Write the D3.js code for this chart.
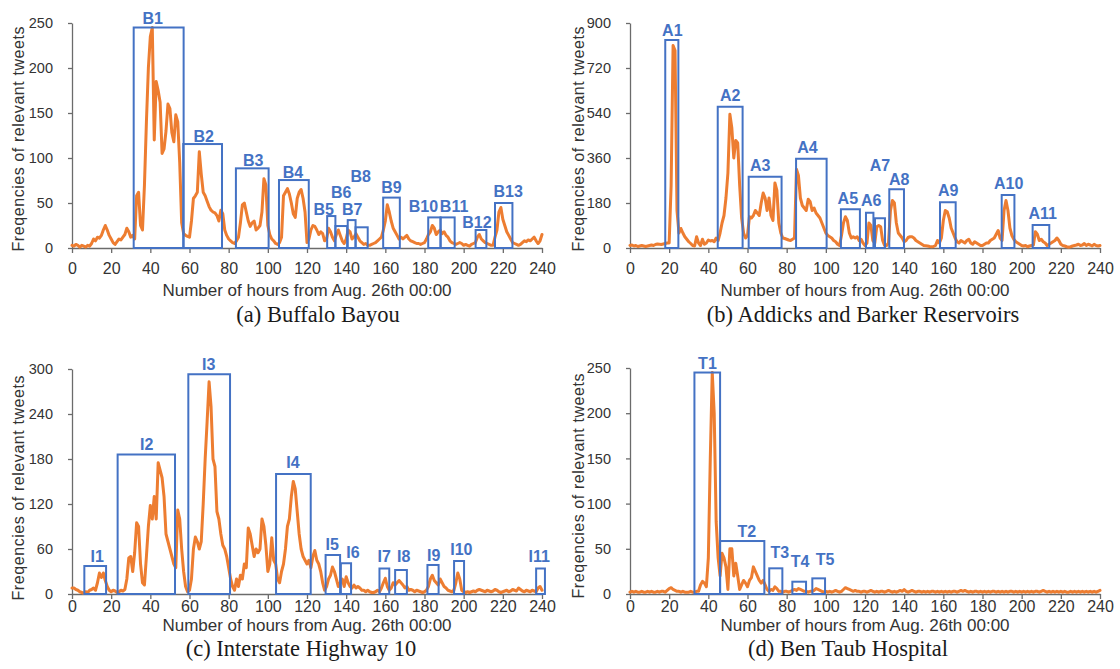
<!DOCTYPE html>
<html>
<head>
<meta charset="utf-8">
<script src="https://cdn.jsdelivr.net/npm/d3@7/dist/d3.min.js"></script>
<style>
  html, body { margin: 0; padding: 0; background: #fff; }
  svg { display: block; }
  .tick text { font-family: "Liberation Sans", Arial, sans-serif; fill: #333; }
</style>
</head>
<body>
<svg id="fig" width="1120" height="669"></svg>
<script>
// ---- data: hourly counts of relevant tweets, hours 0..240 from Aug. 26th 00:00 ----
const xTicks = [0, 20, 40, 60, 80, 100, 120, 140, 160, 180, 200, 220, 240];

const tweetsBuffalo = [
  3,2,4,3,1,3,2,1,3,2,
  5,10,8,12,11,14,20,25,20,14,
  10,6,4,7,10,9,12,15,22,18,
  12,14,10,58,62,25,20,70,140,200,
  235,245,120,185,175,162,105,110,130,160,
  155,128,118,148,140,95,28,16,14,13,
  12,30,55,58,62,107,82,62,58,52,
  46,42,40,39,36,30,42,38,20,14,
  10,8,6,5,8,12,28,48,50,40,
  30,24,28,30,20,22,25,40,77,70,
  25,15,10,8,5,4,6,12,58,62,
  66,60,50,38,34,55,62,65,55,40,
  6,10,20,25,24,20,15,18,16,8,
  10,22,18,12,8,15,20,14,8,5,
  10,20,18,10,12,16,12,8,6,4,
  5,3,3,4,5,6,8,10,12,20,
  30,48,40,30,22,18,14,10,12,10,
  12,14,10,8,7,6,5,5,4,5,
  6,10,15,18,25,22,15,18,20,16,
  18,14,12,8,6,5,4,5,6,5,
  3,4,3,2,4,5,6,12,15,10,
  8,6,5,4,3,3,12,20,40,45,
  32,25,18,14,10,6,5,4,3,4,
  6,8,7,9,8,10,12,8,5,8,
  15
];

const tweetsAddicks = [
  10,12,8,10,6,8,10,8,6,8,
  10,12,10,14,16,15,14,16,18,20,
  20,250,810,790,150,60,78,60,45,35,
  25,18,10,8,45,20,10,35,15,20,
  32,28,30,25,40,30,60,100,130,200,
  300,535,480,360,430,420,250,120,60,40,
  50,125,120,130,150,140,130,180,220,200,
  150,200,130,110,260,230,100,60,40,38,
  35,32,30,35,40,315,290,200,170,160,
  150,195,185,150,160,140,130,120,100,80,
  60,50,45,40,30,25,15,10,50,100,
  125,110,60,40,45,40,45,30,35,20,
  10,20,100,90,30,20,85,90,85,30,
  10,10,20,150,190,180,100,60,50,40,
  25,30,42,45,45,40,30,25,20,15,
  10,9,8,6,5,6,10,30,20,40,
  110,150,145,120,80,60,40,25,20,30,
  25,20,30,35,20,15,25,20,15,10,
  10,15,20,20,30,35,40,55,70,40,
  30,150,190,150,80,50,35,25,20,15,
  10,8,10,5,8,10,12,65,55,30,
  35,25,20,10,15,20,25,30,40,30,
  15,10,8,5,3,5,8,10,12,15,
  10,12,18,10,15,12,8,15,10,8,
  10
];

const tweetsI10 = [
  8,8,6,5,3,2,1,3,2,5,
  6,8,5,15,28,22,28,18,10,5,
  3,5,4,2,3,5,4,6,20,48,
  50,30,55,95,90,40,15,12,50,90,
  118,100,130,100,175,165,155,130,80,70,
  60,50,40,35,112,100,60,30,10,3,
  5,20,60,76,70,60,70,120,180,230,
  283,250,180,170,110,100,80,65,60,50,
  35,20,10,5,20,10,25,20,40,35,
  88,80,65,50,60,55,60,100,90,65,
  30,40,75,45,40,20,15,30,40,60,
  90,100,130,150,140,110,80,60,50,45,
  40,45,35,50,58,45,40,30,15,5,
  10,20,25,36,30,20,10,15,20,10,
  23,15,10,8,12,8,10,8,5,5,
  3,5,3,2,2,3,5,3,8,15,
  21,10,5,8,15,12,15,18,15,12,
  8,10,5,6,5,3,5,4,3,2,
  3,5,10,20,25,18,15,12,20,15,
  10,8,5,4,3,5,15,28,20,5,
  3,2,3,2,3,4,3,5,6,5,
  4,3,5,4,3,4,6,5,3,2,
  3,4,5,3,4,6,5,4,8,6,
  4,3,5,4,3,5,4,3,8,10,
  5
];

const tweetsBenTaub = [
  2,3,2,3,2,2,3,2,2,3,
  2,3,2,2,3,2,3,3,2,4,
  6,7,5,4,3,3,2,3,2,2,
  2,3,2,2,3,3,10,14,12,8,
  40,150,245,200,80,40,20,45,40,30,
  5,50,50,20,34,20,5,10,15,12,
  8,15,18,30,25,20,15,12,15,10,
  5,3,5,4,8,6,3,3,2,3,
  3,2,3,4,5,4,6,5,4,3,
  3,2,3,3,4,6,5,4,3,2,
  3,2,3,2,3,4,3,2,3,5,
  7,6,5,4,3,4,3,3,2,3,
  3,2,3,4,3,2,3,2,3,3,
  2,3,4,3,2,3,2,3,4,3,
  5,3,2,3,4,3,2,3,3,2,
  3,2,3,2,3,3,2,3,2,3,
  2,3,2,3,2,3,3,2,3,4,
  3,4,3,2,3,2,3,3,2,3,
  2,3,2,3,2,3,3,2,3,2,
  3,2,3,2,3,3,2,3,2,3,
  2,3,2,3,2,3,2,3,3,2,
  3,4,3,2,3,2,3,2,3,2,
  3,2,3,2,2,3,2,3,2,3,
  2,3,2,3,2,3,2,3,2,3,
  4
];

// burst windows: [label, start hour, end hour, box height in tweets]
const burstsBuffalo = [
  ["B1", 31.5, 57, 245], ["B2", 56.8, 76.6, 115.5], ["B3", 83.7, 100.4, 88.5],
  ["B4", 105.7, 120.9, 75.5], ["B5", 130.3, 134.5, 35.5], ["B6", 134.5, 140.5, 24.4],
  ["B7", 140.8, 144.8, 31], ["B8", 144.8, 151, 23], ["B9", 158.9, 167.4, 56],
  ["B10", 181.9, 188.2, 34], ["B11", 188.2, 195.4, 34], ["B12", 206.1, 211.6, 20],
  ["B13", 216, 224.9, 50]
];
const burstsAddicks = [
  ["A1", 18, 24.7, 832], ["A2", 44.8, 57.5, 565], ["A3", 60.6, 77.4, 285],
  ["A4", 84.8, 100.4, 357], ["A5", 107.7, 117.4, 155], ["A6", 120.5, 124.3, 141],
  ["A7", 125.1, 130.2, 119], ["A8", 132.4, 139.9, 235], ["A9", 158.3, 166.3, 183],
  ["A10", 189.8, 196.3, 212], ["A11", 205.6, 214.1, 92]
];
const burstsI10 = [
  ["I1", 6.3, 17.4, 37.3], ["I2", 23.3, 52.6, 186], ["I3", 59.4, 80.7, 293],
  ["I4", 104.2, 121.9, 160], ["I5", 129.5, 136.9, 52], ["I6", 137.3, 142.5, 41],
  ["I7", 157, 162, 34], ["I8", 165, 171, 32], ["I9", 181.5, 187.2, 38.7],
  ["I10", 195.1, 200.2, 44], ["I11", 237, 241.5, 34]
];
const burstsBenTaub = [
  ["T1", 32.9, 46, 245], ["T2", 46, 68.6, 58.6], ["T3", 71.1, 77.8, 28.4],
  ["T4", 82.9, 89.9, 13.6], ["T5", 93.1, 99.6, 17.3]
];

// ---- layout ----
// label nudges in px: [dx from box centre, extra lift above the box]
const labelNudge = {
  B1:[-6,1], B2:[1,0], B3:[1,0], B4:[-1,0], B5:[-7.5,-1.5], B6:[0,26], B7:[0.5,2.5],
  B8:[-1,43.5], B9:[0,2], B10:[-11,3.5], B11:[6.5,3.5], B12:[-4,0], B13:[4.5,4],
  A1:[0.5,2], A2:[0,3.75], A3:[-5,4], A4:[-3.8,3.75], A5:[-2.6,3], A6:[1.5,4.25],
  A7:[0,45], A8:[2.6,2], A9:[0.4,4], A10:[0.7,3.5], A11:[1.8,3.8],
  I1:[2,1.3], I2:[0.4,2.5], I3:[-0.4,2.5], I4:[-0.4,4], I5:[-0.6,3.2], I6:[7,3.25],
  I7:[-0.2,3.8], I8:[2.7,5.3], I9:[0.7,2], I10:[2.3,3.8], I11:[-1.3,3.8],
  T1:[0.2,0.8], T2:[4.5,1.3], T3:[4,7.8], T4:[0.8,12], T5:[6.3,11]
};

const panels = [
  { values: tweetsBuffalo, bursts: burstsBuffalo, yMax: 250, yStep: 50,
    x0: 72, x1: 542, yBase: 248, yTopPx: 23, yTitle: [18, 139],
    tickY: 268, titleY: 290, caption: "(a) Buffalo Bayou", capX: 318, capY: 314 },
  { values: tweetsAddicks, bursts: burstsAddicks, yMax: 900, yStep: 180,
    x0: 630, x1: 1100, yBase: 248, yTopPx: 23, yTitle: [578, 139],
    tickY: 268, titleY: 290, caption: "(b) Addicks and Barker Reservoirs", capX: 863, capY: 314 },
  { values: tweetsI10, bursts: burstsI10, yMax: 300, yStep: 60,
    x0: 72, x1: 542, yBase: 594, yTopPx: 369, yTitle: [18, 488],
    tickY: 606, titleY: 625.5, caption: "(c) Interstate Highway 10", capX: 301, capY: 648 },
  { values: tweetsBenTaub, bursts: burstsBenTaub, yMax: 250, yStep: 50,
    x0: 630, x1: 1100, yBase: 594, yTopPx: 368, yTitle: [578, 486],
    tickY: 606, titleY: 625.5, caption: "(d) Ben Taub Hospital", capX: 848, capY: 648 }
];

const BLUE = "#4472c4", ORANGE = "#ed7d31", AXIS = "#6b6b6b", INK = "#333";
const SANS = "'Liberation Sans', Arial, Helvetica, sans-serif";
const SERIF = "'Liberation Serif', 'Times New Roman', serif";

const svg = d3.select("#fig");

panels.forEach(p => {
  const x = d3.scaleLinear().domain([0, 240]).range([p.x0, p.x1]);
  const y = d3.scaleLinear().domain([0, p.yMax]).range([p.yBase, p.yTopPx]);
  const g = svg.append("g");

  // y axis
  const yAxis = g.append("g")
    .attr("transform", `translate(${p.x0},0)`)
    .call(d3.axisLeft(y).tickValues(d3.range(0, p.yMax + 1, p.yStep))
      .tickSize(4).tickPadding(15).tickSizeOuter(0));
  yAxis.selectAll("text").attr("font-size", 14.5).attr("font-family", SANS);

  // x axis
  const xAxis = g.append("g")
    .attr("transform", `translate(0,${p.yBase})`)
    .call(d3.axisBottom(x).tickValues(xTicks).tickSize(5).tickSizeOuter(0));
  xAxis.selectAll(".tick text")
    .attr("y", null).attr("dy", null)
    .attr("transform", `translate(0,${p.tickY - p.yBase})`)
    .attr("dominant-baseline", "central")
    .attr("font-size", 16).attr("font-family", SANS);

  [yAxis, xAxis].forEach(a => {
    a.select(".domain").attr("stroke", AXIS).attr("stroke-width", 1.3);
    a.selectAll(".tick line").attr("stroke", AXIS).attr("stroke-width", 1.3);
  });

  // tweet series
  const line = d3.line().x((d, i) => x(i)).y(d => y(d));
  g.append("path")
    .datum(p.values)
    .attr("fill", "none")
    .attr("stroke", ORANGE)
    .attr("stroke-width", 3)
    .attr("stroke-linejoin", "round")
    .attr("stroke-linecap", "round")
    .attr("d", line);

  // burst windows
  g.selectAll("rect.burst").data(p.bursts).join("rect")
    .attr("class", "burst")
    .attr("x", d => x(d[1]))
    .attr("y", d => y(d[3]))
    .attr("width", d => x(d[2]) - x(d[1]))
    .attr("height", d => y(0) - y(d[3]))
    .attr("fill", "none")
    .attr("stroke", BLUE)
    .attr("stroke-width", 2);

  g.selectAll("text.burst-label").data(p.bursts).join("text")
    .attr("class", "burst-label")
    .attr("x", d => (x(d[1]) + x(d[2])) / 2 + (labelNudge[d[0]] || [0, 0])[0])
    .attr("y", d => y(d[3]) - 8 - (labelNudge[d[0]] || [0, 0])[1])
    .attr("dy", "0.36em")
    .attr("text-anchor", "middle")
    .attr("font-family", SANS)
    .attr("font-weight", "bold")
    .attr("font-size", 16)
    .attr("fill", BLUE)
    .text(d => d[0]);

  // axis titles
  g.append("text")
    .attr("transform", `translate(${p.yTitle[0]},${p.yTitle[1]}) rotate(-90)`)
    .attr("text-anchor", "middle")
    .attr("dominant-baseline", "central")
    .attr("font-family", SANS)
    .attr("font-size", 16)
    .attr("textLength", 225)
    .attr("lengthAdjust", "spacing")
    .attr("fill", INK)
    .text("Freqencies of relevant tweets");

  g.append("text")
    .attr("x", (p.x0 + p.x1) / 2)
    .attr("y", p.titleY)
    .attr("text-anchor", "middle")
    .attr("dominant-baseline", "central")
    .attr("font-family", SANS)
    .attr("font-size", 17)
    .attr("fill", INK)
    .text("Number of hours from Aug. 26th 00:00");

  // panel caption
  g.append("text")
    .attr("x", p.capX)
    .attr("y", p.capY)
    .attr("text-anchor", "middle")
    .attr("dominant-baseline", "central")
    .attr("font-family", SERIF)
    .attr("font-size", 22.5)
    .attr("fill", "#1a1a1a")
    .text(p.caption);
});
</script>
</body>
</html>
